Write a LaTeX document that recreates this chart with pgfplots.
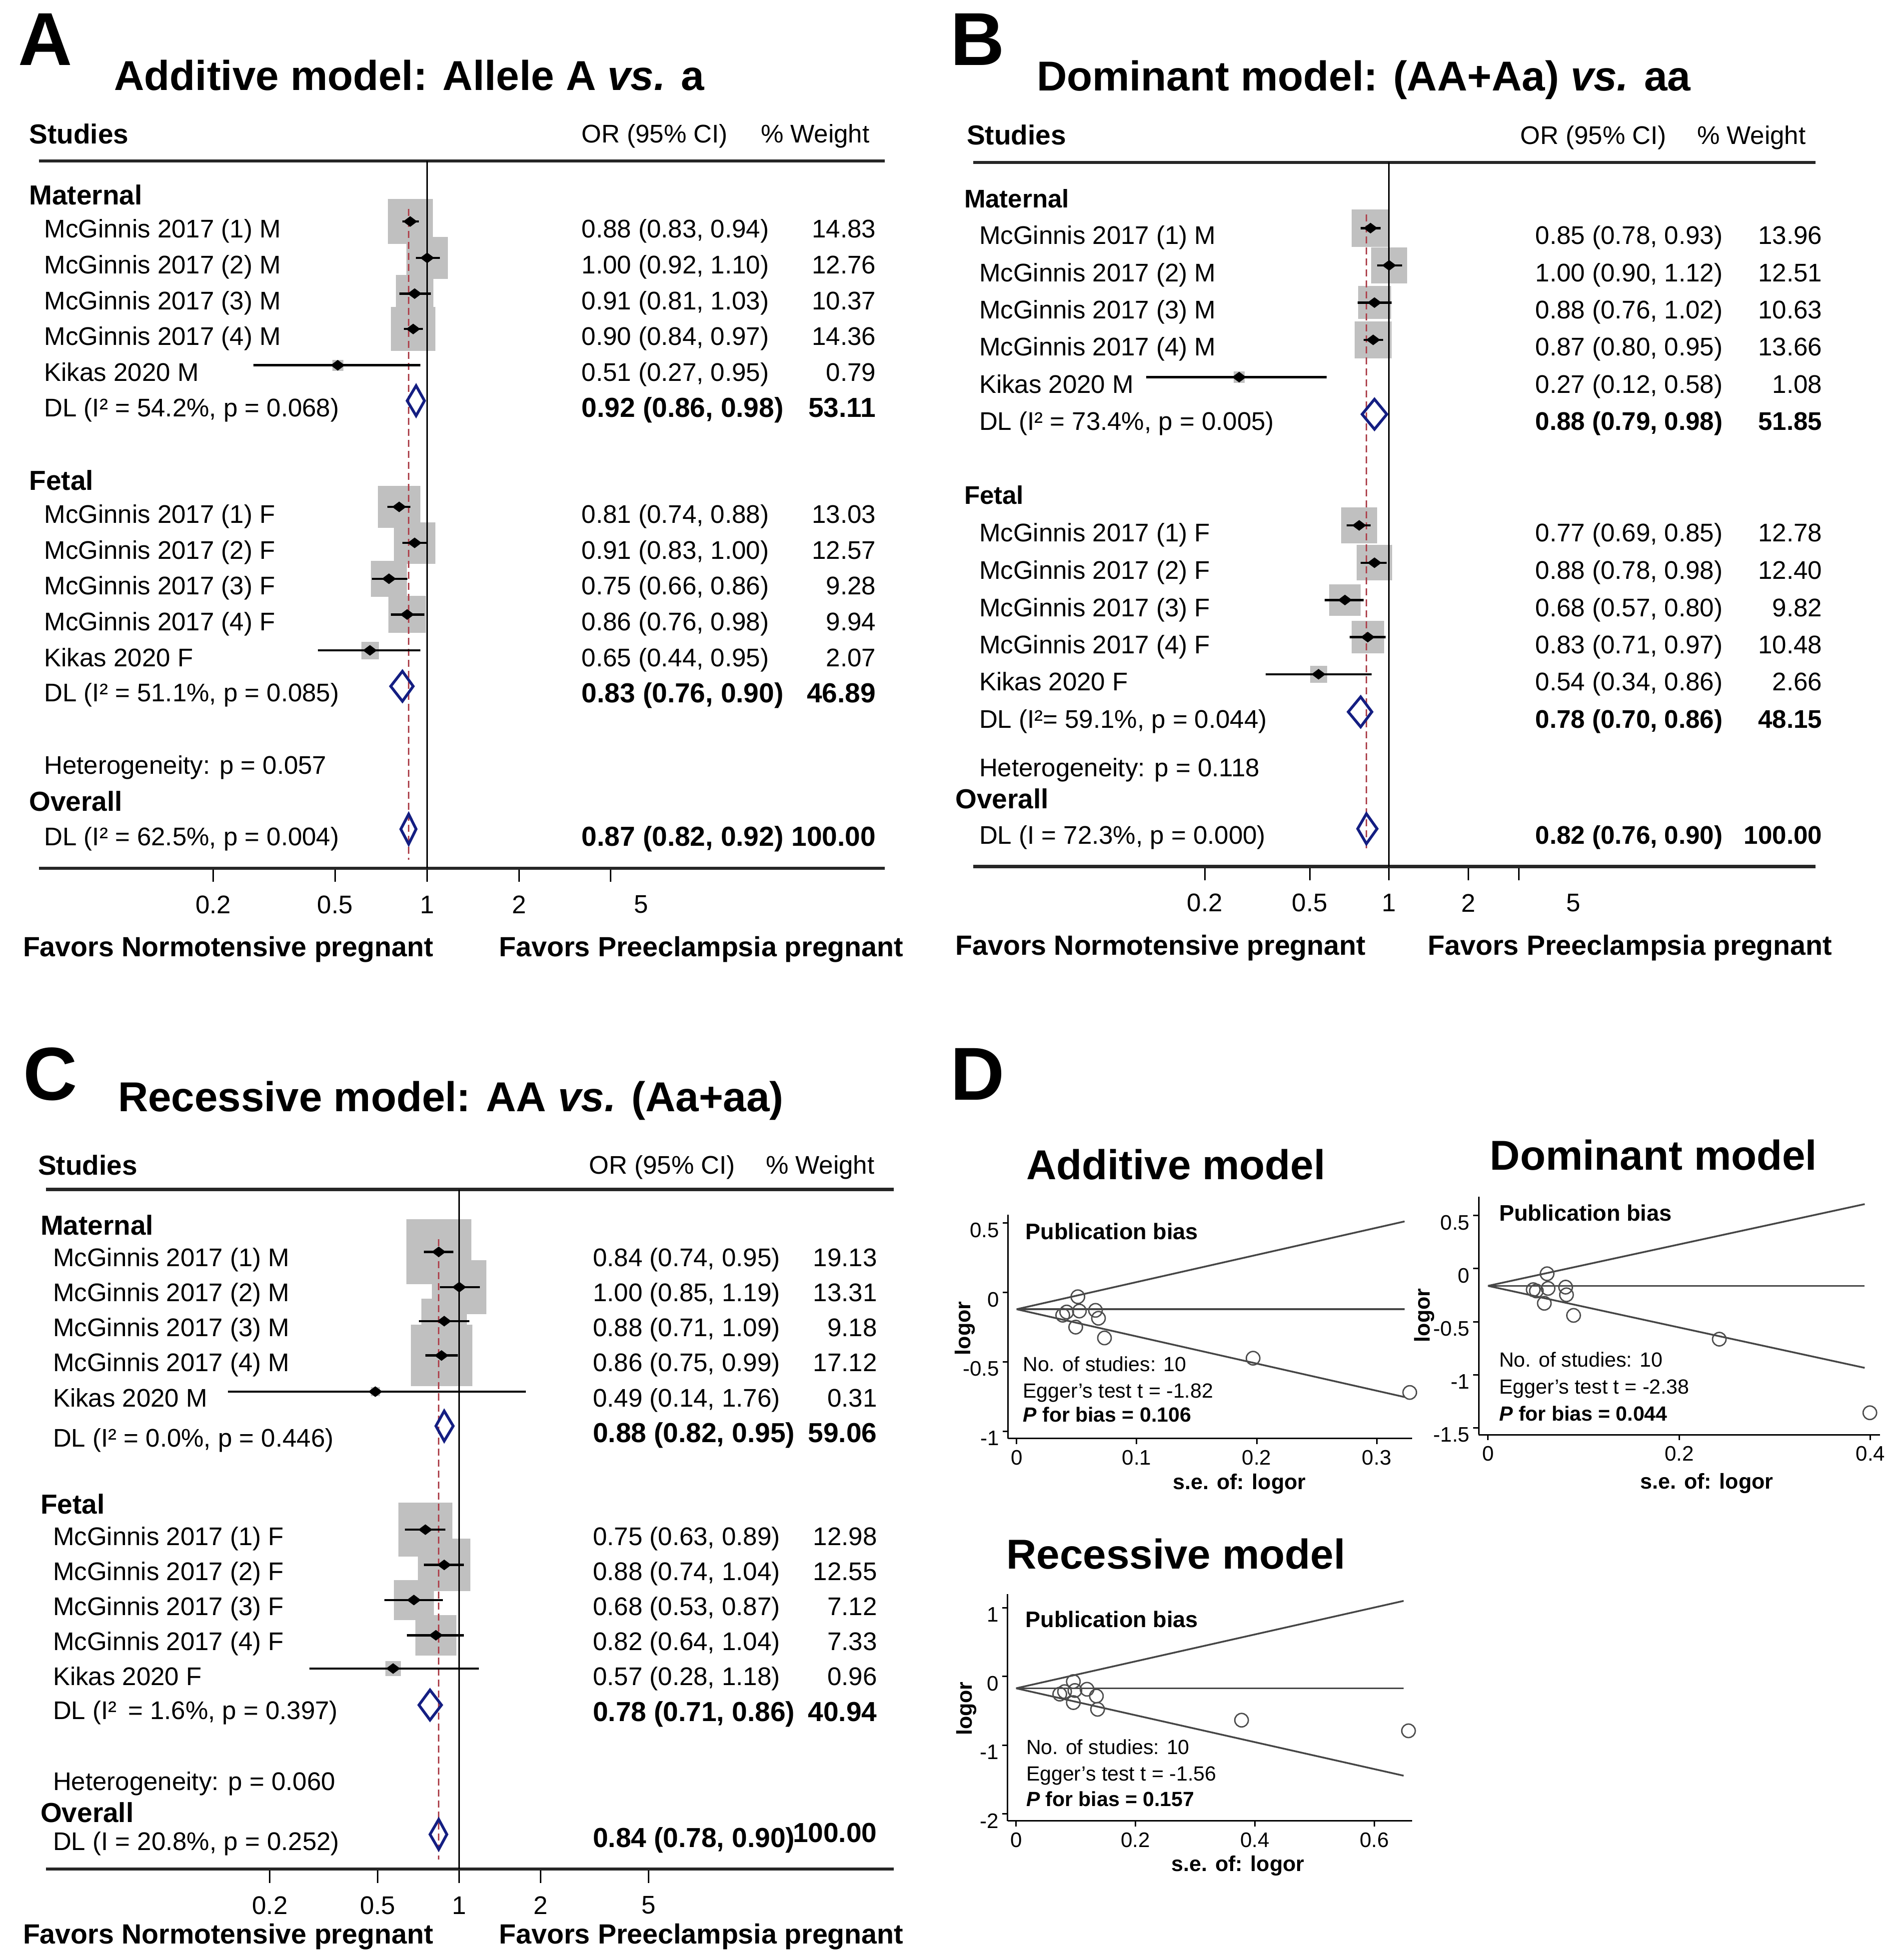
\documentclass[border=0pt]{standalone}
\usepackage{fontspec}
\setmainfont{Liberation Sans}
\usepackage{pgfplots}
\usepackage{pgfplotstable}
\pgfplotsset{compat=1.18}

\definecolor{boxgray}{RGB}{192,192,192}
\definecolor{dnavy}{RGB}{20,30,130}
\definecolor{dmaroon}{RGB}{175,70,80}
\definecolor{fgray}{RGB}{70,70,70}

\newcommand\fr{\fontsize{10.2pt}{12pt}\selectfont}
\newcommand\fb{\fontsize{11pt}{13pt}\selectfont\bfseries}
\newcommand\fbs{\fontsize{10.2pt}{12pt}\selectfont\bfseries}
\newcommand\ftitle{\fontsize{16.7pt}{20pt}\selectfont\bfseries}
\newcommand\fletter{\fontsize{30pt}{34pt}\selectfont\bfseries}
\newcommand\ffav{\fontsize{11.1pt}{13pt}\selectfont\bfseries}
\newcommand\fs{\fontsize{8.2pt}{10pt}\selectfont}
\newcommand\fsb{\fontsize{9pt}{11pt}\selectfont\bfseries}
\newcommand\ftick{\fontsize{8.4pt}{10pt}\selectfont}
\newcommand\fax{\fontsize{8.6pt}{10pt}\selectfont\bfseries}

% text helpers: (x, y-centre) in reference pixels
\newcommand\Lab[3]{\node[anchor=base west,font=\fr,inner sep=0pt] at (#1,#2+7.3) {#3};}
\newcommand\LabR[3]{\node[anchor=base east,font=\fr,inner sep=0pt] at (#1,#2+7.3) {#3};}
\newcommand\Bold[3]{\node[anchor=base west,font=\fb,inner sep=0pt] at (#1,#2+7.9) {#3};}
\newcommand\BoldR[3]{\node[anchor=base east,font=\fb,inner sep=0pt] at (#1,#2+7.9) {#3};}
\newcommand\BoldS[3]{\node[anchor=base west,font=\fbs,inner sep=0pt] at (#1,#2+7.3) {#3};}
\newcommand\BoldSR[3]{\node[anchor=base east,font=\fbs,inner sep=0pt] at (#1,#2+7.3) {#3};}
\newcommand\Row[7]{\Lab{#1}{#4}{#5}\Lab{#2}{#4}{#6}\LabR{#3}{#4}{#7}}
\newcommand\CI[3]{\addplot[ciline] coordinates {(#1,#3) (#2,#3)};}
\newcommand\DIAM[6]{\addplot[diamline] coordinates {(#1,#4) (#2,#5) (#3,#4) (#2,#6)} -- cycle;}

\pgfplotsset{
 forestax/.style={
  scale only axis, anchor=north west,
  axis y line=none, axis x line*=bottom,
  x axis line style={-, line width=1.3pt, black!85},
  xtick style={line width=0.6pt, black},
  tick align=outside, major tick length=5.5pt,
  xticklabel style={font=\fr, anchor=center, inner sep=0pt, yshift=-9pt},
  enlargelimits=false, clip=false, clip marker paths=true,
 },
 ciline/.style={black, line width=0.9pt, no marks},
 ptmark/.style={only marks, mark=diamond*, mark size=2.5pt, black, mark options={rotate=90}},
 diamline/.style={dnavy, line width=1.1pt, no marks, line join=miter},
 refline/.style={dmaroon, line width=0.6pt, dash pattern=on 2.8pt off 1.6pt, no marks},
 oneline/.style={black, line width=0.6pt, no marks},
 funnelax/.style={scale only axis, anchor=north west,
   axis x line*=bottom, axis y line*=left,
   axis line style={-, line width=0.6pt, black},
   tick style={line width=0.6pt, black}, tick align=outside,
   major tick length=2.2pt, scaled ticks=false,
   xticklabel style={font=\ftick, anchor=center, inner sep=0pt, yshift=-5.5pt},
   yticklabel style={font=\ftick, anchor=east, inner sep=0pt, yshift=-2.8pt, xshift=-1.2pt},
   enlargelimits=false, clip=false},
 fline/.style={fgray, line width=0.7pt, no marks},
 fpt/.style={only marks, mark=o, mark size=2.7pt, mark options={draw=black!70, line width=0.55pt}},
}
\newcommand\Boxes[2]{\addplot[scatter, only marks, mark=square*,
   scatter/use mapped color={draw=boxgray,fill=boxgray},
   visualization depends on={\thisrow{w} \as \wt},
   scatter/@pre marker code/.append style={/tikz/mark size={#1*sqrt(\wt)}}]
   table[x=or,y=y] {#2};}

% ---------------- data ----------------
\pgfplotstableread{
or   lo   hi   w     y
0.88 0.83 0.94 14.83 -177.2
1.00 0.92 1.10 12.76 -206.3
0.91 0.81 1.03 10.37 -234.9
0.90 0.84 0.97 14.36 -263.2
0.51 0.27 0.95 0.79  -292.2
0.81 0.74 0.88 13.03 -405.5
0.91 0.83 1.00 12.57 -434.3
0.75 0.66 0.86 9.28  -463.0
0.86 0.76 0.98 9.94  -491.6
0.65 0.44 0.95 2.07  -520.3
}\tabA
\pgfplotstableread{
or   lo   hi   w     y
0.85 0.78 0.93 13.96 -182.5
1.00 0.90 1.12 12.51 -212.3
0.88 0.76 1.02 10.63 -242.1
0.87 0.80 0.95 13.66 -271.9
0.27 0.12 0.58 1.08  -301.7
0.77 0.69 0.85 12.78 -420.3
0.88 0.78 0.98 12.40 -450.2
0.68 0.57 0.80 9.82  -480.0
0.83 0.71 0.97 10.48 -509.7
0.54 0.34 0.86 2.66  -539.4
}\tabB
\pgfplotstableread{
or   lo   hi   w     y
0.84 0.74 0.95 19.13 -1001.5
1.00 0.85 1.19 13.31 -1029.7
0.88 0.71 1.09 9.18  -1056.9
0.86 0.75 0.99 17.12 -1084.4
0.49 0.14 1.76 0.31  -1113.3
0.75 0.63 0.89 12.98 -1223.7
0.88 0.74 1.04 12.55 -1251.9
0.68 0.53 0.87 7.12  -1280.0
0.82 0.64 1.04 7.33  -1308.2
0.57 0.28 1.18 0.96  -1334.8
}\tabC
\pgfplotstableread{
se     lor
0.0510 -0.031
0.0384 -0.164
0.0417 -0.141
0.0523 -0.134
0.0657 -0.129
0.0682 -0.186
0.0492 -0.250
0.0732 -0.328
0.1970 -0.474
0.3275 -0.721
}\fA
\pgfplotstableread{
se     lor
0.0618 -0.048
0.0473 -0.198
0.0506 -0.210
0.0628 -0.186
0.0812 -0.174
0.0821 -0.246
0.0589 -0.326
0.0895 -0.440
0.2419 -0.664
0.3994 -1.357
}\fB
\pgfplotstableread{
se     lor
0.0959 -0.074
0.0731 -0.257
0.0812 -0.221
0.0985 -0.204
0.1188 -0.186
0.1345 -0.285
0.0959 -0.380
0.1365 -0.478
0.3777 -0.636
0.6574 -0.791
}\fC

\begin{document}
\begin{tikzpicture}
\useasboundingbox (0,0) rectangle (758pt,-784pt);

% ================= Panel A =================
\begin{axis}[xmode=log, forestax, at={(15.5pt,-64.35pt)}, width=338.5pt, height=282.95pt,
  xmin=0.0537, xmax=31.4, ymin=-694.6, ymax=-128.7,
  xtick={0.2,0.5,1,2,3.98}, xticklabels={0.2,0.5,1,2,{}},
  extra x ticks={5}, extra x tick labels={5},
  extra x tick style={xtick style={draw=none}}]
\draw[line width=1.3pt, black!85] (axis cs:0.0537,-128.7) -- (axis cs:31.4,-128.7);
\Boxes{2.285}{\tabA}
\addplot[oneline] coordinates {(1,-128.7) (1,-694.6)};
\addplot[refline] coordinates {(0.87,-167) (0.87,-688)};
\CI{0.83}{0.94}{-177.2}\CI{0.92}{1.10}{-206.3}\CI{0.81}{1.03}{-234.9}\CI{0.84}{0.97}{-263.2}\CI{0.27}{0.95}{-292.2}
\CI{0.74}{0.88}{-405.5}\CI{0.83}{1.00}{-434.3}\CI{0.66}{0.86}{-463.0}\CI{0.76}{0.98}{-491.6}\CI{0.44}{0.95}{-520.3}
\addplot[ptmark] table[x=or,y=y] {\tabA};
\DIAM{0.86}{0.92}{0.98}{-320.6}{-308.6}{-332.6}
\DIAM{0.76}{0.83}{0.90}{-549.0}{-537.0}{-561.0}
\DIAM{0.82}{0.87}{0.92}{-663.3}{-651.3}{-675.3}
\end{axis}

% ================= Panel B =================
\begin{axis}[xmode=log, forestax, at={(389.25pt,-65pt)}, width=337pt, height=281.65pt,
  xmin=0.02647, xmax=41.41, ymin=-693.3, ymax=-130,
  xtick={0.2,0.5,1,2,3.1}, xticklabels={0.2,0.5,1,2,{}},
  extra x ticks={5}, extra x tick labels={5},
  extra x tick style={xtick style={draw=none}}]
\draw[line width=1.3pt, black!85] (axis cs:0.02647,-130) -- (axis cs:41.41,-130);
\Boxes{1.9625}{\tabB}
\addplot[oneline] coordinates {(1,-130) (1,-693.3)};
\addplot[refline] coordinates {(0.82,-171.5) (0.82,-679)};
\CI{0.78}{0.93}{-182.5}\CI{0.90}{1.12}{-212.3}\CI{0.76}{1.02}{-242.1}\CI{0.80}{0.95}{-271.9}\CI{0.12}{0.58}{-301.7}
\CI{0.69}{0.85}{-420.3}\CI{0.78}{0.98}{-450.2}\CI{0.57}{0.80}{-480.0}\CI{0.71}{0.97}{-509.7}\CI{0.34}{0.86}{-539.4}
\addplot[ptmark] table[x=or,y=y] {\tabB};
\DIAM{0.79}{0.88}{0.98}{-331.4}{-319.4}{-343.4}
\DIAM{0.70}{0.78}{0.86}{-569.5}{-557.5}{-581.5}
\DIAM{0.76}{0.82}{0.90}{-663.0}{-651.0}{-675.0}
\end{axis}

% ================= Panel C =================
\begin{axis}[xmode=log, forestax, at={(18.35pt,-475.8pt)}, width=339.15pt, height=271.8pt,
  xmin=0.02978, xmax=40.19, ymin=-1495.2, ymax=-951.6,
  xtick={0.2,0.5,1,2,5}, xticklabels={0.2,0.5,1,2,5}]
\draw[line width=1.3pt, black!85] (axis cs:0.02978,-951.6) -- (axis cs:40.19,-951.6);
\Boxes{2.925}{\tabC}
\addplot[oneline] coordinates {(1,-951.6) (1,-1495.2)};
\addplot[refline] coordinates {(0.84,-991.5) (0.84,-1487.5)};
\CI{0.74}{0.95}{-1001.5}\CI{0.85}{1.19}{-1029.7}\CI{0.71}{1.09}{-1056.9}\CI{0.75}{0.99}{-1084.4}\CI{0.14}{1.76}{-1113.3}
\CI{0.63}{0.89}{-1223.7}\CI{0.74}{1.04}{-1251.9}\CI{0.53}{0.87}{-1280.0}\CI{0.64}{1.04}{-1308.2}\CI{0.28}{1.18}{-1334.8}
\addplot[ptmark] table[x=or,y=y] {\tabC};
\DIAM{0.82}{0.88}{0.95}{-1140.8}{-1128.8}{-1152.8}
\DIAM{0.71}{0.78}{0.86}{-1364.0}{-1352.0}{-1376.0}
\DIAM{0.78}{0.84}{0.90}{-1467.5}{-1455.5}{-1479.5}
\end{axis}

% ================= Funnels (D) =================
\begin{axis}[funnelax, at={(403.25pt,-485.9pt)}, width=161.6pt, height=89.45pt,
  xmin=-0.00707, xmax=0.3295, ymin=-1.052, ymax=0.560,
  xtick={0,0.1,0.2,0.3}, xticklabels={0,0.1,0.2,0.3},
  ytick={-1,-0.5,0,0.5}, yticklabels={-1,-0.5,0,0.5}]
\addplot[fline] coordinates {(0,-0.121) (0.3232,0.512)};
\addplot[fline] coordinates {(0,-0.121) (0.3232,-0.754)};
\addplot[fline] coordinates {(0,-0.121) (0.3232,-0.121)};
\addplot[fpt] table[x=se,y=lor] {\fA};
\end{axis}

\begin{axis}[funnelax, at={(591.5pt,-478.75pt)}, width=160.5pt, height=95.1pt,
  xmin=-0.00966, xmax=0.41, ymin=-1.563, ymax=0.676,
  xtick={0,0.2,0.4}, xticklabels={0,0.2,0.4},
  ytick={-1.5,-1,-0.5,0,0.5}, yticklabels={-1.5,-1,-0.5,0,0.5}]
\addplot[fline] coordinates {(0,-0.162) (0.394,0.608)};
\addplot[fline] coordinates {(0,-0.162) (0.394,-0.934)};
\addplot[fline] coordinates {(0,-0.162) (0.394,-0.162)};
\addplot[fpt] table[x=se,y=lor] {\fB};
\end{axis}

\begin{axis}[funnelax, at={(403.05pt,-637.55pt)}, width=161.8pt, height=90.8pt,
  xmin=-0.0142, xmax=0.6635, ymin=-2.102, ymax=1.202,
  xtick={0,0.2,0.4,0.6}, xticklabels={0,0.2,0.4,0.6},
  ytick={-2,-1,0,1}, yticklabels={-2,-1,0,1}]
\addplot[fline] coordinates {(0,-0.172) (0.6492,1.100)};
\addplot[fline] coordinates {(0,-0.172) (0.6492,-1.444)};
\addplot[fline] coordinates {(0,-0.172) (0.6492,-0.172)};
\addplot[fpt] table[x=se,y=lor] {\fC};
\end{axis}

% ================= Text =================
\begin{scope}[x=0.5pt,y=-0.5pt]
% letters
\node[anchor=base west,font=\fletter,inner sep=0pt] at (14,52) {A};
\node[anchor=base west,font=\fletter,inner sep=0pt] at (760,52) {B};
\node[anchor=base west,font=\fletter,inner sep=0pt] at (18,880) {C};
\node[anchor=base west,font=\fletter,inner sep=0pt] at (760,880) {D};
% titles
\node[anchor=base west,font=\ftitle,inner sep=0pt] at (91,72) {Additive model: Allele A \textit{vs.} a};
\node[anchor=base west,font=\ftitle,inner sep=0pt] at (829,72.5) {Dominant model: (AA+Aa) \textit{vs.} aa};
\node[anchor=base west,font=\ftitle,inner sep=0pt] at (94,889) {Recessive model: AA \textit{vs.} (Aa+aa)};

% ---- Panel A text
\Bold{23}{107}{Studies}\Lab{465}{107}{OR (95\% CI)}\LabR{696}{107}{\% Weight}
\Bold{23}{156}{Maternal}
\Row{35}{465}{701}{182.9}{McGinnis 2017 (1) M}{0.88 (0.83, 0.94)}{14.83}
\Row{35}{465}{701}{211.8}{McGinnis 2017 (2) M}{1.00 (0.92, 1.10)}{12.76}
\Row{35}{465}{701}{240.3}{McGinnis 2017 (3) M}{0.91 (0.81, 1.03)}{10.37}
\Row{35}{465}{701}{268.7}{McGinnis 2017 (4) M}{0.90 (0.84, 0.97)}{14.36}
\Row{35}{465}{701}{297.7}{Kikas 2020 M}{0.51 (0.27, 0.95)}{0.79}
\Lab{35}{326}{DL (I² = 54.2\%, p = 0.068)}\Bold{465}{326}{0.92 (0.86, 0.98)}\BoldR{701}{326}{53.11}
\Bold{23}{384}{Fetal}
\Row{35}{465}{701}{411}{McGinnis 2017 (1) F}{0.81 (0.74, 0.88)}{13.03}
\Row{35}{465}{701}{440}{McGinnis 2017 (2) F}{0.91 (0.83, 1.00)}{12.57}
\Row{35}{465}{701}{468.5}{McGinnis 2017 (3) F}{0.75 (0.66, 0.86)}{9.28}
\Row{35}{465}{701}{497}{McGinnis 2017 (4) F}{0.86 (0.76, 0.98)}{9.94}
\Row{35}{465}{701}{525.8}{Kikas 2020 F}{0.65 (0.44, 0.95)}{2.07}
\Lab{35}{554}{DL (I² = 51.1\%, p = 0.085)}\Bold{465}{554}{0.83 (0.76, 0.90)}\BoldR{701}{554}{46.89}
\Lab{35}{612}{Heterogeneity: p = 0.057}
\Bold{23}{641}{Overall}
\Lab{35}{669}{DL (I² = 62.5\%, p = 0.004)}\Bold{465}{669}{0.87 (0.82, 0.92)}\BoldR{701}{669}{100.00}
\node[anchor=base west,font=\ffav,inner sep=0pt] at (18,765) {Favors Normotensive pregnant};
\node[anchor=base west,font=\ffav,inner sep=0pt] at (399,765) {Favors Preeclampsia pregnant};

% ---- Panel B text
\Bold{773}{108}{Studies}\Lab{1216}{108}{OR (95\% CI)}\LabR{1445}{108}{\% Weight}
\BoldS{771}{159}{Maternal}
\Row{783}{1228}{1458}{188}{McGinnis 2017 (1) M}{0.85 (0.78, 0.93)}{13.96}
\Row{783}{1228}{1458}{218}{McGinnis 2017 (2) M}{1.00 (0.90, 1.12)}{12.51}
\Row{783}{1228}{1458}{247.6}{McGinnis 2017 (3) M}{0.88 (0.76, 1.02)}{10.63}
\Row{783}{1228}{1458}{277.4}{McGinnis 2017 (4) M}{0.87 (0.80, 0.95)}{13.66}
\Row{783}{1228}{1458}{307.2}{Kikas 2020 M}{0.27 (0.12, 0.58)}{1.08}
\Lab{783}{337}{DL (I² = 73.4\%, p = 0.005)}\BoldS{1228}{337}{0.88 (0.79, 0.98)}\BoldSR{1458}{337}{51.85}
\BoldS{771}{396}{Fetal}
\Row{783}{1228}{1458}{426}{McGinnis 2017 (1) F}{0.77 (0.69, 0.85)}{12.78}
\Row{783}{1228}{1458}{456}{McGinnis 2017 (2) F}{0.88 (0.78, 0.98)}{12.40}
\Row{783}{1228}{1458}{486}{McGinnis 2017 (3) F}{0.68 (0.57, 0.80)}{9.82}
\Row{783}{1228}{1458}{515.5}{McGinnis 2017 (4) F}{0.83 (0.71, 0.97)}{10.48}
\Row{783}{1228}{1458}{545}{Kikas 2020 F}{0.54 (0.34, 0.86)}{2.66}
\Lab{783}{575}{DL (I²= 59.1\%, p = 0.044)}\BoldS{1228}{575}{0.78 (0.70, 0.86)}\BoldSR{1458}{575}{48.15}
\Lab{783}{614}{Heterogeneity: p = 0.118}
\Bold{764}{639}{Overall}
\Lab{783}{668}{DL (I = 72.3\%, p = 0.000)}\BoldS{1228}{668}{0.82 (0.76, 0.90)}\BoldSR{1458}{668}{100.00}
\node[anchor=base west,font=\ffav,inner sep=0pt] at (764,764) {Favors Normotensive pregnant};
\node[anchor=base west,font=\ffav,inner sep=0pt] at (1142,764) {Favors Preeclampsia pregnant};

% ---- Panel C text
\Bold{30}{932}{Studies}\Lab{471}{932}{OR (95\% CI)}\LabR{700}{932}{\% Weight}
\Bold{32}{980}{Maternal}
\Row{42}{474}{702}{1006}{McGinnis 2017 (1) M}{0.84 (0.74, 0.95)}{19.13}
\Row{42}{474}{702}{1034}{McGinnis 2017 (2) M}{1.00 (0.85, 1.19)}{13.31}
\Row{42}{474}{702}{1062}{McGinnis 2017 (3) M}{0.88 (0.71, 1.09)}{9.18}
\Row{42}{474}{702}{1090}{McGinnis 2017 (4) M}{0.86 (0.75, 0.99)}{17.12}
\Row{42}{474}{702}{1118}{Kikas 2020 M}{0.49 (0.14, 1.76)}{0.31}
\Lab{42}{1150}{DL (I² = 0.0\%, p = 0.446)}\Bold{474}{1146}{0.88 (0.82, 0.95)}\BoldR{702}{1146}{59.06}
\Bold{32}{1203}{Fetal}
\Row{42}{474}{702}{1229}{McGinnis 2017 (1) F}{0.75 (0.63, 0.89)}{12.98}
\Row{42}{474}{702}{1257}{McGinnis 2017 (2) F}{0.88 (0.74, 1.04)}{12.55}
\Row{42}{474}{702}{1285}{McGinnis 2017 (3) F}{0.68 (0.53, 0.87)}{7.12}
\Row{42}{474}{702}{1313}{McGinnis 2017 (4) F}{0.82 (0.64, 1.04)}{7.33}
\Row{42}{474}{702}{1341}{Kikas 2020 F}{0.57 (0.28, 1.18)}{0.96}
\Lab{42}{1368}{DL (I²\, = 1.6\%, p = 0.397)}\Bold{474}{1369}{0.78 (0.71, 0.86)}\BoldR{702}{1369}{40.94}
\Lab{42}{1425}{Heterogeneity: p = 0.060}
\Bold{32}{1450}{Overall}
\Lab{42}{1473}{DL (I = 20.8\%, p = 0.252)}\Bold{474}{1470}{0.84 (0.78, 0.90)}\BoldR{702}{1466}{100.00}
\node[anchor=base west,font=\ffav,inner sep=0pt] at (18,1555) {Favors Normotensive pregnant};
\node[anchor=base west,font=\ffav,inner sep=0pt] at (399,1555) {Favors Preeclampsia pregnant};

% ---- Funnel text
\node[anchor=base west,font=\ftitle,inner sep=0pt] at (820.6,943.6) {Additive model};
\node[anchor=base west,font=\ftitle,inner sep=0pt] at (1191.6,936) {Dominant model};
\node[anchor=base west,font=\ftitle,inner sep=0pt] at (804.8,1255) {Recessive model};

\node[anchor=base west,font=\fsb,inner sep=0pt] at (820,991.4) {Publication bias};
\node[anchor=base west,font=\fs,inner sep=0pt] at (818,1097.2) {No. of studies: 10};
\node[anchor=base west,font=\fs,inner sep=0pt] at (818,1118.2) {Egger's test t = -1.82};
\node[anchor=base west,font=\fs\bfseries,inner sep=0pt] at (818,1137.6) {\textit{P} for bias = 0.106};

\node[anchor=base west,font=\fsb,inner sep=0pt] at (1199,976.7) {Publication bias};
\node[anchor=base west,font=\fs,inner sep=0pt] at (1199,1093.4) {No. of studies: 10};
\node[anchor=base west,font=\fs,inner sep=0pt] at (1199,1115.1) {Egger's test t = -2.38};
\node[anchor=base west,font=\fs\bfseries,inner sep=0pt] at (1199,1136.5) {\textit{P} for bias = 0.044};

\node[anchor=base west,font=\fsb,inner sep=0pt] at (820,1301.8) {Publication bias};
\node[anchor=base west,font=\fs,inner sep=0pt] at (820.6,1403.6) {No. of studies: 10};
\node[anchor=base west,font=\fs,inner sep=0pt] at (820.6,1424.8) {Egger's test t = -1.56};
\node[anchor=base west,font=\fs\bfseries,inner sep=0pt] at (820.6,1445.1) {\textit{P} for bias = 0.157};

\node[rotate=90,font=\fax,inner sep=0pt] at (772,1062.7) {logor};
\node[rotate=90,font=\fax,inner sep=0pt] at (1139.4,1052.3) {logor};
\node[rotate=90,font=\fax,inner sep=0pt] at (773.3,1366.9) {logor};
\node[font=\fax,inner sep=0pt] at (991.5,1187) {s.e. of: logor};
\node[font=\fax,inner sep=0pt] at (1365.4,1186.7) {s.e. of: logor};
\node[font=\fax,inner sep=0pt] at (990.3,1492.5) {s.e. of: logor};
\end{scope}
\end{tikzpicture}
\end{document}
